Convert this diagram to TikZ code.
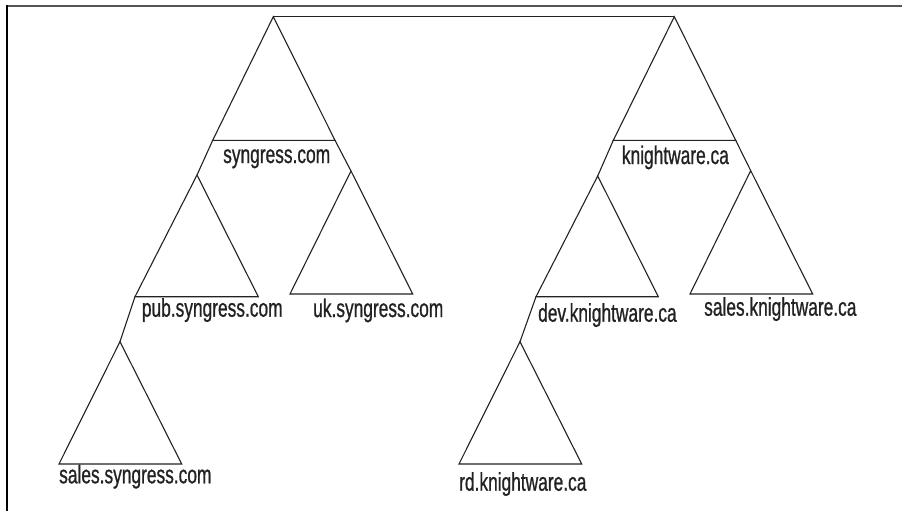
\documentclass[tikz,border=0pt]{standalone}
\usepackage{fontspec}
\setmainfont{Liberation Sans}[FakeStretch=0.68, FakeBold=0.8]
\definecolor{ink}{HTML}{222222}
\definecolor{frame}{HTML}{555555}
\tikzset{
  tri/.style={draw=ink, line width=1.1pt, line join=miter},
  link/.style={draw=ink, line width=1.1pt},
  lbl/.style={inner sep=0pt, anchor=base west, text=ink, font=\fontsize{25.5}{25.5}\selectfont}
}
\begin{document}
\begin{tikzpicture}[x=1pt,y=-1pt]
\useasboundingbox (0,0) rectangle (902,511);
% frame
\draw[frame, line width=2pt] (7,6) -- (902,6);
\draw[black, line width=2pt] (7,5) -- (7,511);
% apexes and bases
\coordinate (sA) at (273.3,16.7); \coordinate (sL) at (212.7,140.3); \coordinate (sR) at (335,140.3);
\coordinate (kA) at (674.3,16.7); \coordinate (kL) at (613.3,140.3); \coordinate (kR) at (735.7,140.3);
\coordinate (pA) at (197,175);    \coordinate (pL) at (135,296.7);   \coordinate (pR) at (258.3,296.7);
\coordinate (uA) at (351,171);    \coordinate (uL) at (290,294);     \coordinate (uR) at (412.7,294);
\coordinate (dA) at (597.7,176);  \coordinate (dL) at (536,296.7);   \coordinate (dR) at (658.3,296.7);
\coordinate (wA) at (750.7,170.7);\coordinate (wL) at (690,294);     \coordinate (wR) at (812.7,294);
\coordinate (xA) at (120,341.7);  \coordinate (xL) at (59,464);      \coordinate (xR) at (181.7,464);
\coordinate (rA) at (520,341.7);  \coordinate (rL) at (459,464);     \coordinate (rR) at (581.7,464);
% triangles
\foreach \t in {s,k,p,u,d,w,x,r}{
  \draw[tri] (\t A) -- (\t L) -- (\t R) -- cycle;
}
% connectors
\draw[link] (sA) -- (kA);
\draw[link] (sL) -- (pA);
\draw[link] (sR) -- (uA);
\draw[link] (kL) -- (dA);
\draw[link] (kR) -- (wA);
\draw[link] (pL) -- (xA);
\draw[link] (dL) -- (rA);
% labels
\node[lbl] (ls) at (223,163) {syngress.com};
\node[lbl] (lk) at (621.7,164) {knightware.ca};
\node[lbl] (lp) at (141.7,316.7) {pub.syngress.com};
\node[lbl] (lu) at (313,317) {uk.syngress.com};
\node[lbl] (ld) at (538,321.7) {dev.knightware.ca};
\node[lbl] (lw) at (704,315.7) {sales.knightware.ca};
\node[lbl] (lx) at (59,483.3) {sales.syngress.com};
\node[lbl] (lr) at (459,490.7) {rd.knightware.ca};
\end{tikzpicture}
\end{document}
